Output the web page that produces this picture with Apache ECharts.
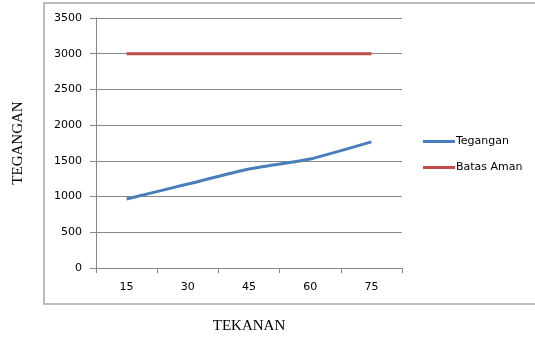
<!DOCTYPE html>
<html>
<head>
<meta charset="utf-8">
<script src="https://cdn.jsdelivr.net/npm/echarts@6/dist/echarts.min.js"></script>
<style>
  html, body { margin: 0; padding: 0; background: #fff; }
  #chart { width: 535px; height: 337px; }
</style>
</head>
<body>
<div id="chart"></div>
<script>
const categories = ["15", "30", "45", "60", "75"];
const tegangan = [965, 1175, 1385, 1525, 1765];
const batasAman = [3000, 3000, 3000, 3000, 3000];

const chart = echarts.init(document.getElementById("chart"));

const option = {
  animation: false,
  graphic: [
    {
      type: "rect",
      shape: { x: 44, y: 3, width: 500, height: 301 },
      style: { fill: "none", stroke: "#a6a6a6", lineWidth: 1.5 },
      silent: true,
    },
  ],
  grid: { left: 96, top: 18, width: 306, height: 250, containLabel: false, outerBoundsMode: "none" },
  legend: {
    orient: "vertical",
    left: 423,
    top: 136,
    padding: 0,
    itemWidth: 32,
    itemHeight: 3,
    itemGap: 15,
    icon: "rect",
    textStyle: { fontFamily: "DejaVu Sans", fontSize: 11, color: "#000", padding: [0, 0, 0, -4] },
    data: ["Tegangan", "Batas Aman"],
  },
  xAxis: {
    type: "category",
    data: categories,
    boundaryGap: true,
    name: "TEKANAN",
    nameLocation: "middle",
    nameGap: 51,
    nameTextStyle: { fontFamily: "Liberation Serif", fontSize: 15, color: "#000" },
    axisLine: { lineStyle: { color: "#888" } },
    axisTick: { show: true, length: 5, lineStyle: { color: "#888" } },
    axisLabel: { fontFamily: "DejaVu Sans", fontSize: 11, color: "#000", margin: 14 },
  },
  yAxis: {
    type: "value",
    min: 0,
    max: 3500,
    interval: 500,
    name: "TEGANGAN",
    nameLocation: "middle",
    nameGap: 70,
    nameTextStyle: { fontFamily: "Liberation Serif", fontSize: 15, color: "#000" },
    axisLine: { show: true, lineStyle: { color: "#888" } },
    axisTick: { show: true, length: 6, lineStyle: { color: "#888" } },
    axisLabel: {
      fontFamily: "DejaVu Sans",
      fontSize: 11,
      color: "#000",
      margin: 14,
      formatter: (v) => String(v),
    },
    splitLine: { lineStyle: { color: "#888", width: 1 } },
  },
  series: [
    {
      name: "Tegangan",
      type: "line",
      data: tegangan,
      smooth: 0.15,
      showSymbol: false,
      lineStyle: { color: "#4a7ebb", width: 3 },
      itemStyle: { color: "#4a7ebb" },
    },
    {
      name: "Batas Aman",
      type: "line",
      data: batasAman,
      showSymbol: false,
      lineStyle: { color: "#be4b48", width: 3 },
      itemStyle: { color: "#be4b48" },
    },
  ],
};

chart.setOption(option);
</script>
</body>
</html>
